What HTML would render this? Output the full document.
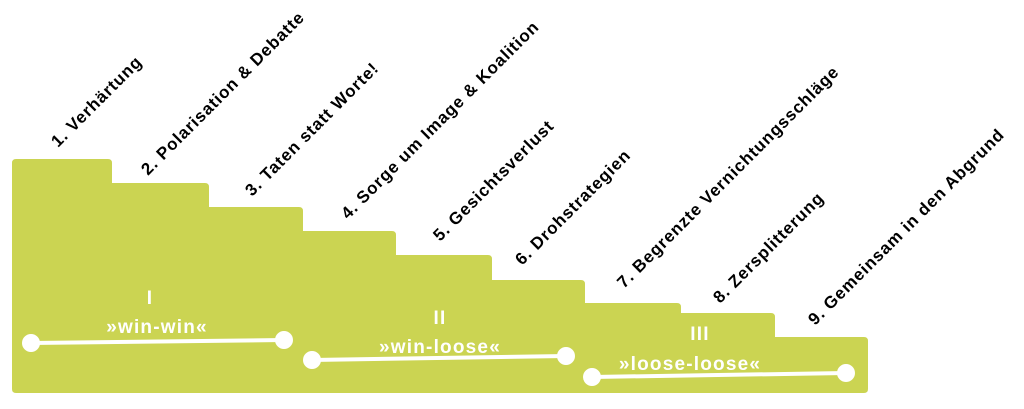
<!DOCTYPE html>
<html><head><meta charset="utf-8"><style>
body{margin:0;background:#fff;width:1024px;height:404px;overflow:hidden}
</style></head><body>
<svg width="1024" height="404" viewBox="0 0 1024 404" xmlns="http://www.w3.org/2000/svg">
<path fill="#cbd452" stroke="#cbd452" stroke-width="2" stroke-linejoin="round" d="M13,163 Q13,160 16,160 L108,160 Q111,160 111,163 L111,184 L205,184 Q208,184 208,187 L208,208 L299,208 Q302,208 302,211 L302,232 L392,232 Q395,232 395,235 L395,256 L488,256 Q491,256 491,259 L491,281 L581,281 Q584,281 584,284 L584,304 L677,304 Q680,304 680,307 L680,314 L771,314 Q774,314 774,317 L774,338 L864,338 Q867,338 867,341 L867,389 Q867,392 864,392 L16,392 Q13,392 13,389 Z"/>
<g stroke="#fff" stroke-width="4" fill="#fff">
<line x1="31" y1="343" x2="284" y2="340"/>
<circle cx="31" cy="343" r="7"/><circle cx="284" cy="340" r="7"/>
<line x1="312" y1="360" x2="566" y2="356"/>
<circle cx="312" cy="360" r="7"/><circle cx="566" cy="356" r="7"/>
<line x1="592" y1="377" x2="846" y2="373"/>
<circle cx="592" cy="377" r="7"/><circle cx="846" cy="373" r="7"/>
</g>
<g fill="#fff" font-family="Liberation Sans, sans-serif" font-weight="bold" font-size="19" letter-spacing="1.2" text-anchor="middle">
<text x="150" y="304">I</text>
<text x="157" y="333">»win-win«</text>
<text x="440" y="324">II</text>
<text x="440" y="353">»win-loose«</text>
<text x="700" y="340">III</text>
<text x="690" y="370">»loose-loose«</text>
</g>
<g fill="#000" font-family="Liberation Sans, sans-serif" font-weight="bold" font-size="17" letter-spacing="0.9">
<text x="58" y="148" transform="rotate(-45 58 148)">1. Verhärtung</text>
<text x="148" y="176" transform="rotate(-45 148 176)">2. Polarisation &amp; Debatte</text>
<text x="252" y="197" transform="rotate(-45 252 197)">3. Taten statt Worte!</text>
<text x="348" y="220" transform="rotate(-45 348 220)">4. Sorge um Image &amp; Koalition</text>
<text x="440" y="242" transform="rotate(-45 440 242)">5. Gesichtsverlust</text>
<text x="522" y="266" transform="rotate(-45 522 266)">6. Drohstrategien</text>
<text x="624" y="289" transform="rotate(-45 624 289)">7. Begrenzte Vernichtungsschläge</text>
<text x="720" y="304" transform="rotate(-45 720 304)">8. Zersplitterung</text>
<text x="815" y="326" transform="rotate(-45 815 326)">9. Gemeinsam in den Abgrund</text>
</g>
</svg>
</body></html>
